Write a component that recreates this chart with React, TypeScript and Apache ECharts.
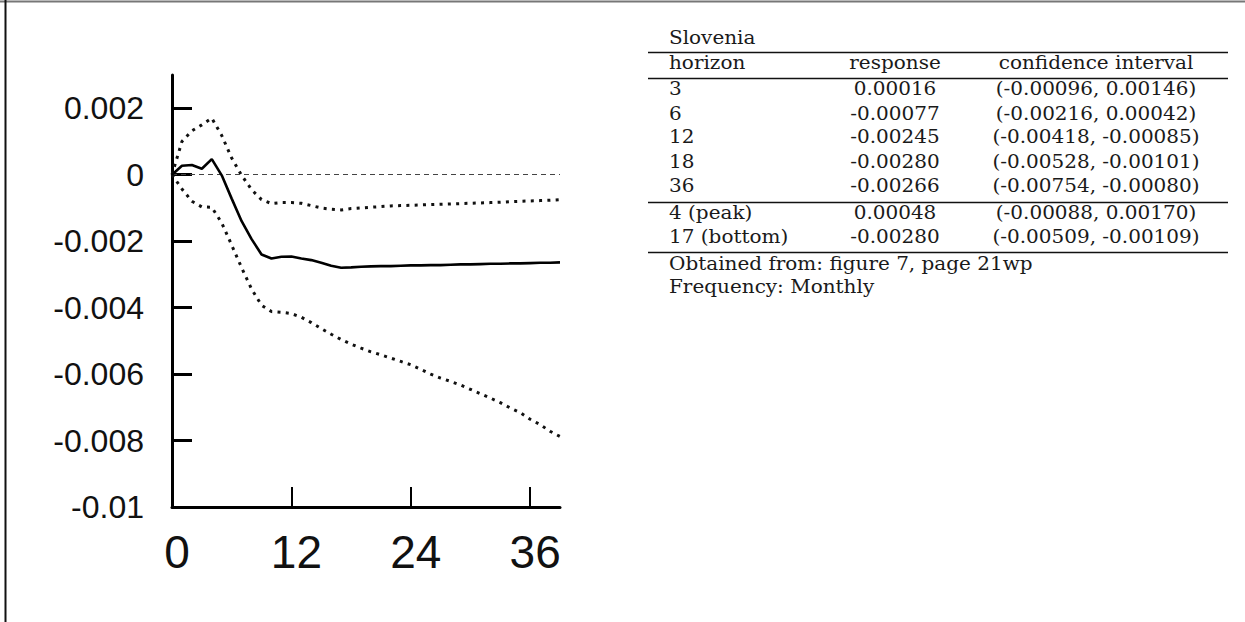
import React, { useEffect, useRef } from "react";
import * as echarts from "echarts";

// ---------- chart data ----------
const horizons = [0, 1, 2, 3, 4, 5, 6, 7, 8, 9, 10, 11, 12, 13, 14, 15, 16, 17, 18, 19, 20, 21, 22, 23, 24, 25, 26, 27, 28, 29, 30, 31, 32, 33, 34, 35, 36, 37, 38, 39];

const responseValues = [
  0, 0.00027, 0.00029, 0.00018, 0.00047, -0.00002, -0.00072, -0.0014, -0.00194, -0.0024,
  -0.00252, -0.00247, -0.00246, -0.00252, -0.00257, -0.00265, -0.00274, -0.0028, -0.00279, -0.00277,
  -0.00276, -0.00275, -0.00275, -0.00274, -0.00273, -0.00273, -0.00272, -0.00272, -0.00271, -0.0027,
  -0.0027, -0.00269, -0.00268, -0.00268, -0.00267, -0.00267, -0.00266, -0.00265, -0.00265, -0.00264,
];

const upperValues = [
  0, 0.001, 0.00132, 0.0015, 0.0017, 0.00118, 0.0005, -0.00002, -0.00045, -0.00075,
  -0.00087, -0.00084, -0.00084, -0.00086, -0.00093, -0.001, -0.00104, -0.00106, -0.00102, -0.001,
  -0.00098, -0.00096, -0.00094, -0.00093, -0.00092, -0.00091, -0.0009, -0.00089, -0.00088, -0.00087,
  -0.00086, -0.00085, -0.00084, -0.00083, -0.00081, -0.0008, -0.00079, -0.00078, -0.00077, -0.00075,
];

const lowerValues = [
  0, -0.00043, -0.0008, -0.00097, -0.00098, -0.00145, -0.00212, -0.0028, -0.00344, -0.00393,
  -0.00412, -0.00414, -0.00418, -0.00429, -0.00445, -0.00463, -0.0048, -0.00496, -0.0051, -0.00522,
  -0.00533, -0.00542, -0.00552, -0.00562, -0.00572, -0.00586, -0.006, -0.00612, -0.00622, -0.00633,
  -0.00646, -0.00659, -0.00672, -0.00686, -0.00702, -0.00716, -0.00736, -0.00752, -0.00772, -0.00788,
];

const xTicks = [0, 12, 24, 36];
const yTicks = [-0.01, -0.008, -0.006, -0.004, -0.002, 0, 0.002];
const yTickLabels = ["-0.01", "-0.008", "-0.006", "-0.004", "-0.002", "0", "0.002"];

// ---------- table data ----------
const tableTitle = "Slovenia";
const tableHeader = ["horizon", "response", "confidence interval"];
const tableHorizons = ["3", "6", "12", "18", "36"];
const tableResponses = ["0.00016", "-0.00077", "-0.00245", "-0.00280", "-0.00266"];
const tableIntervals = [
  "(-0.00096, 0.00146)",
  "(-0.00216, 0.00042)",
  "(-0.00418, -0.00085)",
  "(-0.00528, -0.00101)",
  "(-0.00754, -0.00080)",
];
const extremaLabels = ["4 (peak)", "17 (bottom)"];
const extremaResponses = ["0.00048", "-0.00280"];
const extremaIntervals = ["(-0.00088, 0.00170)", "(-0.00509, -0.00109)"];
const tableNotes = ["Obtained from: figure 7, page 21wp", "Frequency: Monthly"];

const W = 1245;
const H = 622;

function buildTableGraphics() {
  const font = '"DejaVu Serif", serif';
  const fs = 20;
  const colL = 669;
  const colR = 895;
  const colC = 1096;
  const ruleX1 = 648;
  const ruleX2 = 1228;
  const els: any[] = [];
  const txt = (text: string, x: number, y: number, align: string) => ({
    type: "text",
    x,
    y,
    scaleY: 0.88,
    silent: true,
    style: { text, fontSize: fs, fontFamily: font, fill: "#1a1a1a", align, verticalAlign: "middle" },
  });
  const rule = (y: number) => ({
    type: "line",
    silent: true,
    shape: { x1: ruleX1, y1: y, x2: ruleX2, y2: y },
    style: { stroke: "#111", lineWidth: 1.4 },
  });
  els.push(txt(tableTitle, colL, 38, "left"));
  els.push(rule(52.5));
  els.push(txt(tableHeader[0], colL, 63, "left"));
  els.push(txt(tableHeader[1], colR, 63, "center"));
  els.push(txt(tableHeader[2], colC, 63, "center"));
  els.push(rule(78.5));
  const rowY = [89, 113.5, 137, 162, 185.5];
  tableHorizons.forEach((h, i) => {
    els.push(txt(h, colL, rowY[i], "left"));
    els.push(txt(tableResponses[i], colR, rowY[i], "center"));
    els.push(txt(tableIntervals[i], colC, rowY[i], "center"));
  });
  els.push(rule(202.5));
  const exY = [212.5, 237];
  extremaLabels.forEach((h, i) => {
    els.push(txt(h, colL, exY[i], "left"));
    els.push(txt(extremaResponses[i], colR, exY[i], "center"));
    els.push(txt(extremaIntervals[i], colC, exY[i], "center"));
  });
  els.push(rule(252.5));
  els.push(txt(tableNotes[0], colL, 263.5, "left"));
  els.push(txt(tableNotes[1], colL, 287, "left"));
  return els;
}

export default function App() {
  const ref = useRef<HTMLDivElement>(null);

  useEffect(() => {
    if (!ref.current) return;
    const chart = echarts.init(ref.current, undefined, { renderer: "svg" });
    const axisFont = '"Liberation Sans", Arial, sans-serif';

    const toPairs = (vals: number[]) => horizons.map((h, i) => [h, vals[i]]);

    const dotted = {
      color: "#111",
      width: 3,
      type: [3, 5.3],
      cap: "butt",
    };

    chart.setOption({
      animation: false,
      backgroundColor: "#ffffff",
      grid: { left: 172, top: 75, width: 388, height: 432, containLabel: false },
      xAxis: {
        type: "value",
        min: 0,
        max: 39,
        interval: 12,
        axisLine: { show: true, onZero: false, lineStyle: { color: "#000", width: 3 } },
        axisTick: {
          show: true,
          inside: true,
          length: 20,
          customValues: xTicks,
          lineStyle: { color: "#000", width: 2 },
        },
        axisLabel: {
          show: true,
          customValues: xTicks,
          fontSize: 46,
          fontFamily: axisFont,
          color: "#111",
          margin: 45,
          verticalAlign: "middle",
          padding: [0, 0, 0, 10],
          formatter: (v: number) => String(Math.round(v)),
        },
        splitLine: { show: false },
      },
      yAxis: {
        type: "value",
        min: -0.01,
        max: 0.003,
        axisLine: { show: true, onZero: false, lineStyle: { color: "#000", width: 3 } },
        axisTick: {
          show: true,
          inside: true,
          length: 20,
          customValues: yTicks,
          lineStyle: { color: "#000", width: 3 },
        },
        axisLabel: {
          show: true,
          customValues: yTicks,
          fontSize: 32,
          fontFamily: axisFont,
          color: "#111",
          margin: 28,
          formatter: (v: number) => {
            let best = 0;
            let bd = Infinity;
            yTicks.forEach((t, i) => {
              const d = Math.abs(t - v);
              if (d < bd) {
                bd = d;
                best = i;
              }
            });
            return yTickLabels[best];
          },
        },
        splitLine: { show: false },
      },
      series: [
        {
          name: "response",
          type: "line",
          data: toPairs(responseValues),
          showSymbol: false,
          symbol: "none",
          lineStyle: { color: "#000", width: 2.6 },
          z: 5,
          markLine: {
            silent: true,
            symbol: "none",
            label: { show: false },
            lineStyle: { color: "#444", width: 1, type: [5, 4] },
            data: [{ yAxis: 0 }],
          },
        },
        {
          name: "upper",
          type: "line",
          data: toPairs(upperValues),
          showSymbol: false,
          symbol: "none",
          lineStyle: dotted,
          z: 4,
        },
        {
          name: "lower",
          type: "line",
          data: toPairs(lowerValues),
          showSymbol: false,
          symbol: "none",
          lineStyle: dotted,
          z: 4,
        },
      ],
      graphic: [
        {
          type: "line",
          silent: true,
          shape: { x1: 0, y1: 1.5, x2: W, y2: 1.5 },
          style: { stroke: "#777", lineWidth: 2 },
        },
        {
          type: "line",
          silent: true,
          shape: { x1: 5.5, y1: 0, x2: 5.5, y2: H },
          style: { stroke: "#111", lineWidth: 2 },
        },
        ...buildTableGraphics(),
      ],
    });

    return () => {
      chart.dispose();
    };
  }, []);

  return (
    <div
      ref={ref}
      style={{ position: "absolute", left: 0, top: 0, width: W, height: H, background: "#fff" }}
    />
  );
}
